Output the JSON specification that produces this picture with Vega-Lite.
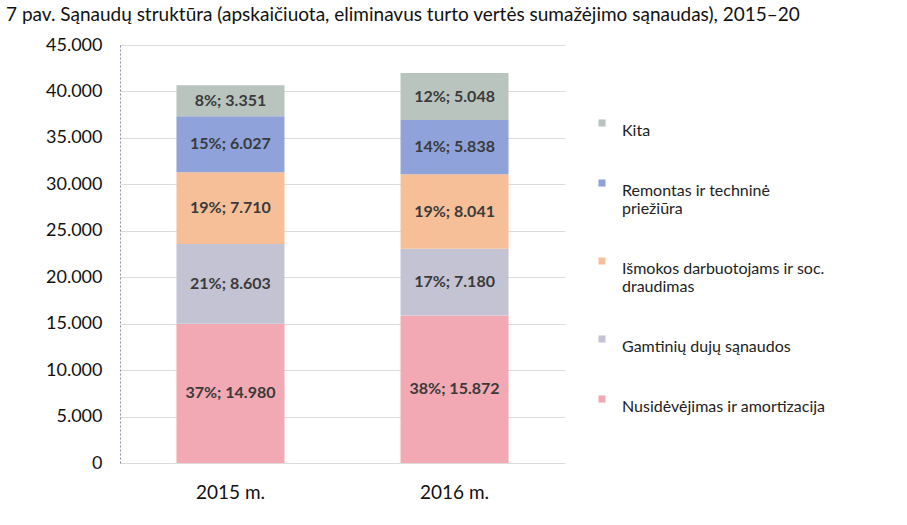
{
  "$schema": "https://vega.github.io/schema/vega-lite/v6.json",
  "autosize": "none",
  "width": 445,
  "height": 418,
  "padding": {"left": 120, "top": 45, "right": 342, "bottom": 62},
  "background": "white",
  "config": {"view": {"stroke": null}, "font": "Lato"},
  "title": {
    "text": "7 pav. Sąnaudų struktūra (apskaičiuota, eliminavus turto vertės sumažėjimo sąnaudas), 2015–20",
    "anchor": "start",
    "frame": "group",
    "dx": -114,
    "offset": 11,
    "fontSize": 19,
    "fontWeight": "normal",
    "color": "#111",
    "font": "Lato"
  },
  "data": {
    "values": [
      {"year": "2015 m.", "cat": "Nusidėvėjimas ir amortizacija", "ord": 1, "value": 14980, "label": "37%; 14.980"},
      {"year": "2015 m.", "cat": "Gamtinių dujų sąnaudos", "ord": 2, "value": 8603, "label": "21%; 8.603"},
      {"year": "2015 m.", "cat": "Išmokos darbuotojams ir soc. draudimas", "ord": 3, "value": 7710, "label": "19%; 7.710"},
      {"year": "2015 m.", "cat": "Remontas ir techninė priežiūra", "ord": 4, "value": 6027, "label": "15%; 6.027"},
      {"year": "2015 m.", "cat": "Kita", "ord": 5, "value": 3351, "label": "8%; 3.351"},
      {"year": "2016 m.", "cat": "Nusidėvėjimas ir amortizacija", "ord": 1, "value": 15872, "label": "38%; 15.872"},
      {"year": "2016 m.", "cat": "Gamtinių dujų sąnaudos", "ord": 2, "value": 7180, "label": "17%; 7.180"},
      {"year": "2016 m.", "cat": "Išmokos darbuotojams ir soc. draudimas", "ord": 3, "value": 8041, "label": "19%; 8.041"},
      {"year": "2016 m.", "cat": "Remontas ir techninė priežiūra", "ord": 4, "value": 5838, "label": "14%; 5.838"},
      {"year": "2016 m.", "cat": "Kita", "ord": 5, "value": 5048, "label": "12%; 5.048"}
    ]
  },
  "encoding": {
    "x": {
      "field": "year",
      "type": "nominal",
      "scale": {"paddingInner": 0.518, "paddingOuter": 0.252},
      "axis": {
        "title": null,
        "labelAngle": 0,
        "labelFontSize": 19,
        "labelColor": "#111",
        "labelPadding": 20,
        "ticks": false,
        "domain": false
      }
    }
  },
  "layer": [
    {
      "mark": {"type": "bar"},
      "encoding": {
        "y": {
          "field": "value",
          "type": "quantitative",
          "stack": "zero",
          "scale": {"domain": [0, 45000], "nice": false},
          "axis": {
            "title": null,
            "values": [0, 5000, 10000, 15000, 20000, 25000, 30000, 35000, 40000, 45000],
            "labelExpr": "replace(format(datum.value, ','), ',', '.')",
            "labelFontSize": 18,
            "labelColor": "#111",
            "labelPadding": 18,
            "ticks": false,
            "domainColor": "#8a86a8",
            "domainDash": [2, 2],
            "gridColor": "#dcdcdc",
            "gridWidth": 1.2
          }
        },
        "order": {"field": "ord", "type": "quantitative"},
        "color": {
          "field": "cat",
          "type": "nominal",
          "scale": {
            "domain": ["Nusidėvėjimas ir amortizacija", "Gamtinių dujų sąnaudos", "Išmokos darbuotojams ir soc. draudimas", "Remontas ir techninė priežiūra", "Kita"],
            "range": ["#f2a9b3", "#c4c3d4", "#f7bf98", "#8fa3da", "#b9c4bf"]
          },
          "legend": {
            "title": null,
            "orient": "none",
            "legendX": 474,
            "legendY": 70,
            "values": ["Kita", "Remontas ir techninė priežiūra", "Išmokos darbuotojams ir soc. draudimas", "Gamtinių dujų sąnaudos", "Nusidėvėjimas ir amortizacija"],
            "labelExpr": "datum.label == 'Remontas ir techninė priežiūra' ? ['Remontas ir techninė', 'priežiūra'] : datum.label == 'Išmokos darbuotojams ir soc. draudimas' ? ['Išmokos darbuotojams ir soc.', 'draudimas'] : datum.label",
            "labelFontSize": 16,
            "labelColor": "#222",
            "labelLimit": 400,
            "labelOffset": 12,
            "symbolType": "square",
            "symbolSize": 50,
            "symbolStrokeWidth": 0,
            "rowPadding": 36,
            "labelBaseline": "top"
          }
        }
      }
    },
    {
      "transform": [
        {"stack": "value", "groupby": ["year"], "sort": [{"field": "ord"}], "as": ["v0", "v1"]},
        {"calculate": "(datum.v0 + datum.v1) / 2", "as": "mid"}
      ],
      "mark": {"type": "text", "fontSize": 16, "fontWeight": "bold", "color": "#3a3a3a", "baseline": "middle"},
      "encoding": {
        "y": {"field": "mid", "type": "quantitative"},
        "text": {"field": "label"}
      }
    }
  ]
}
